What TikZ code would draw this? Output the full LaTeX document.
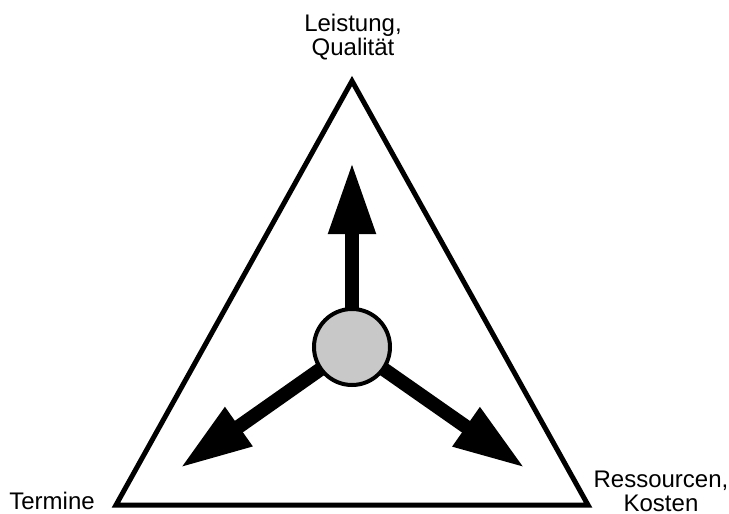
\documentclass[tikz,border=0pt]{standalone}
\usepackage{fontspec}
\setmainfont{Liberation Sans}
\usetikzlibrary{
    arrows.meta,
    positioning
}
\definecolor{hubGray}{RGB}{200,200,200}
\tikzset{
  frame/.style = {draw, line width=2.5pt, line join=miter},
  hub/.style   = {draw, circle, line width=2pt, fill=hubGray,
                  minimum size=38pt, inner sep=0pt},
  arr/.style   = {-{Triangle[length=36pt,width=22pt]}, line width=7pt},
  lbl/.style   = {align=center, inner sep=0pt,
                  font=\fontsize{12}{11.8}\selectfont}
}

\begin{document}
\begin{tikzpicture}[x=0.5pt, y=-0.5pt]
  \useasboundingbox (0,0) rectangle (729,514);
  % corners of the triangle
  \coordinate (top) at (352,81);
  \coordinate (left) at (116,505);
  \coordinate (right) at (588,505);
  \draw[frame] (left) -- (top) -- (right) -- cycle;
  % arrow tips
  \coordinate (c) at (352,347);
  \coordinate (tq) at (352,162);
  \coordinate (tt) at (180,468);
  \coordinate (tr) at (525,468);
  \draw[arr] (c) -- (tq);
  \draw[arr] (c) -- (tt);
  \draw[arr] (c) -- (tr);
  \node[hub] (h) at (c) {};
  % labels
  \node[lbl, anchor=base] (lq) at (353,55) {Leistung,\\Qualität};
  \node[lbl, anchor=base] (lt) at (52,509) {Termine};
  \node[lbl, anchor=base] (lr) at (661,511) {Ressourcen,\\Kosten};
\end{tikzpicture}
\end{document}
